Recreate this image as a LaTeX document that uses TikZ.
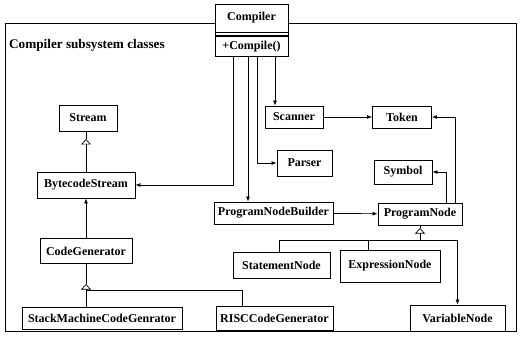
\documentclass[tikz,border=0pt]{standalone}
\usepackage{fontspec}
\setmainfont{Liberation Serif}
\usetikzlibrary{positioning,arrows.meta}

\begin{document}
\begin{tikzpicture}[x=1pt,y=-1pt,font=\bfseries\fontsize{12}{14}\selectfont]
 \tikzset{
  classBox/.style={rectangle, draw, line width=0.9pt, fill=white, minimum height=24pt, inner xsep=4pt, inner ysep=2pt},
  assocArrow/.style={-{Latex[length=5pt,width=4pt]}, line width=0.7pt},
  inhArrow/.style={-{Triangle[open,length=5.5pt,width=10pt]}, line width=0.7pt}
  }
  \useasboundingbox (0,0) rectangle (523,337);
  % the subsystem frame
  \draw[line width=0.9pt] (5,23) rectangle (516,331);
  \node[anchor=west, inner sep=0pt, font=\bfseries\fontsize{13.2}{15}\selectfont] (title) at (9,45) {Compiler subsystem classes};

  % the compiler class: name, attributes, operations
  \node[classBox, minimum width=73pt, minimum height=28pt] (cName) at (251.5,18) {Compiler};
  \node[classBox, minimum width=73pt, minimum height=3pt, inner sep=0pt, below=0pt of cName] (cAttr) {};
  \node[classBox, minimum width=73pt, minimum height=20pt, inner ysep=0pt, below=0pt of cAttr] (cOps) {+Compile()};

  % classes
  \node[classBox, minimum width=58pt, minimum height=26pt] (stream) at (88,118) {Stream};
  \node[classBox, minimum width=98pt, minimum height=26pt] (bcStream) at (86,185) {BytecodeStream};
  \node[classBox, minimum width=92pt, minimum height=25pt] (codeGen) at (86,251) {CodeGenerator};
  \node[classBox, minimum width=160pt, minimum height=22pt] (smcg) at (102,318) {StackMachineCodeGenrator};
  \node[classBox, minimum width=117pt] (riscg) at (274.5,318) {RISCCodeGenerator};
  \node[classBox, minimum width=58pt, minimum height=22pt] (scanner) at (294,117) {Scanner};
  \node[classBox, minimum width=59pt, minimum height=22pt] (token) at (402,117) {Token};
  \node[classBox, minimum width=55pt, minimum height=26pt] (parser) at (304.5,163) {Parser};
  \node[classBox, minimum width=58pt] (symbol) at (403,172) {Symbol};
  \node[classBox, minimum width=119pt, minimum height=22pt] (pnb) at (273.5,213) {ProgramNodeBuilder};
  \node[classBox, minimum width=84pt, minimum height=22pt] (pn) at (420,214) {ProgramNode};
  \node[classBox, minimum width=97pt, minimum height=26pt] (stmt) at (281.5,265) {StatementNode};
  \node[classBox, minimum width=100pt, minimum height=32pt] (expr) at (390,266) {ExpressionNode};
  \node[classBox, minimum width=95pt, minimum height=26pt] (varn) at (457.5,318) {VariableNode};

  % junctions of the inheritance trees
  \coordinate (sTip) at (86,139);
  \coordinate (cgTip) at (86,284);
  \coordinate (cgBar) at (86,290);
  \coordinate (pnTip) at (420,228);
  \coordinate (pnBar) at (420,240);

  % compiler uses
  \draw[assocArrow] ([xshift=-18.5pt]cOps.south) |- (bcStream);
  \draw[assocArrow] ([xshift=-3.5pt]cOps.south) -- ([xshift=-3.5pt]cOps.south |- pnb.north);
  \draw[assocArrow] ([xshift=5.5pt]cOps.south) |- (parser);
  \draw[assocArrow] ([xshift=23.5pt]cOps.south) -- ([xshift=23.5pt]cOps.south |- scanner.north);

  \draw[assocArrow] (scanner) -- (token);
  \draw[assocArrow] (pnb) -- (pn);
  \draw[assocArrow] ([xshift=35pt]pn.north) |- (token);
  \draw[assocArrow] ([xshift=26pt]pn.north) |- (symbol);
  \draw[assocArrow] (codeGen) -- (bcStream);

  % inheritance
  \draw (sTip |- stream.south) -- (sTip);
  \draw[inhArrow] (bcStream) -- (sTip);
  \draw (codeGen) -- (cgTip);
  \draw[inhArrow] (cgBar) -- (cgTip);
  \draw (cgBar |- smcg.north) -- (cgBar) -| ([xshift=-32.5pt]riscg.north);
  \draw[inhArrow] (pnBar) -- (pnTip);
  \draw (pnTip) -- (pn);
  \draw ([xshift=-2.5pt]stmt.north) |- (pnBar);
  \draw ([xshift=-22pt]expr.north) -- ([xshift=-22pt]expr.north |- pnBar);
  \draw[assocArrow] (pnBar) -| (varn.north);
\end{tikzpicture}
\end{document}
